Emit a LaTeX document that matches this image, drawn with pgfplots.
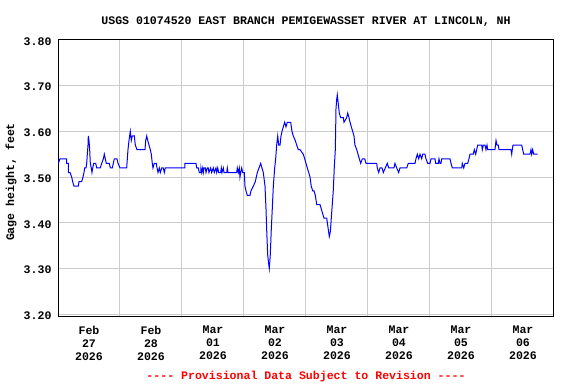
\documentclass[border=0pt]{standalone}
\usepackage{fontspec}
\setmonofont{Liberation Mono}
\usepackage{pgfplots}
\pgfplotsset{compat=1.18}
\definecolor{gridgray}{RGB}{204,204,204}
\definecolor{usgsblue}{RGB}{0,0,255}
\newcommand{\cf}{\ttfamily\bfseries\fontsize{11.6}{13}\selectfont}
\begin{document}
\begin{tikzpicture}
\path[use as bounding box] (0,0) rectangle (576bp,384bp);
\begin{axis}[
  at={(58bp,68bp)}, anchor=south west,
  scale only axis, width=496bp, height=276bp,
  xmin=0, xmax=8, ymin=3.196, ymax=3.80,
  axis line style={black, line width=1bp},
  major tick length=0pt,
  xtick={0.5,1.5,2.5,3.5,4.5,5.5,6.5,7.5},
  xticklabels={{Feb\\27\\2026},{Feb\\28\\2026},{Mar\\01\\2026},{Mar\\02\\2026},{Mar\\03\\2026},{Mar\\04\\2026},{Mar\\05\\2026},{Mar\\06\\2026}},
  xticklabel style={align=center, font=\cf, yshift=-6.5bp},
  extra x ticks={1,2,3,4,5,6,7},
  extra x tick labels={},
  extra x tick style={grid=major},
  ytick={3.2,3.3,3.4,3.5,3.6,3.7,3.8},
  ymajorgrids=true,
  grid style={gridgray, line width=1bp},
  yticklabel style={font=\cf, xshift=-3bp, yshift=-1.5bp, /pgf/number format/.cd, fixed, fixed zerofill, precision=2},
  /pgf/number format/assume math mode=true,
]
\addplot[usgsblue, line width=1bp, sharp plot, no marks] coordinates {
(0.005,3.53)(0.032,3.54)(0.140,3.54)(0.141,3.53)(0.166,3.53)(0.167,3.51)(0.194,3.51)(0.221,3.50)(0.237,3.49)(0.258,3.48)(0.327,3.48)(0.339,3.49)(0.382,3.49)(0.403,3.50)(0.419,3.51)(0.431,3.52)(0.452,3.52)(0.463,3.53)(0.473,3.55)(0.484,3.57)(0.489,3.59)(0.500,3.58)(0.511,3.56)(0.521,3.53)(0.537,3.52)(0.548,3.51)(0.560,3.52)(0.576,3.53)(0.608,3.53)(0.624,3.52)(0.682,3.52)(0.705,3.53)(0.731,3.54)(0.747,3.55)(0.763,3.54)(0.779,3.53)(0.827,3.53)(0.844,3.52)(0.876,3.52)(0.892,3.53)(0.908,3.54)(0.952,3.54)(0.968,3.53)(1.000,3.52)
(1.108,3.52)(1.118,3.54)(1.129,3.56)(1.145,3.58)(1.166,3.60)(1.182,3.58)(1.198,3.59)(1.231,3.59)(1.247,3.57)(1.274,3.56)(1.403,3.56)(1.415,3.58)(1.431,3.59)(1.447,3.58)(1.468,3.57)(1.489,3.56)(1.505,3.55)(1.521,3.53)(1.532,3.52)(1.553,3.53)(1.585,3.53)(1.597,3.52)(1.613,3.51)(1.634,3.52)(1.650,3.51)(1.673,3.52)(1.698,3.52)(1.715,3.51)(1.731,3.52)(2.047,3.52)
(2.048,3.53)(2.226,3.53)(2.237,3.52)(2.263,3.52)(2.279,3.51)(2.302,3.51)(2.306,3.52)(2.318,3.51)(2.334,3.52)(2.344,3.51)(2.355,3.52)(2.376,3.52)(2.387,3.51)(2.408,3.52)(2.424,3.52)(2.435,3.51)(2.463,3.52)(2.479,3.51)(2.505,3.52)(2.521,3.51)(2.548,3.52)(2.560,3.51)(2.576,3.52)(2.592,3.51)(2.624,3.51)(2.634,3.52)(2.645,3.51)(2.666,3.52)(2.677,3.51)(2.721,3.51)(2.731,3.52)(2.742,3.51)(2.882,3.51)(2.892,3.52)(2.908,3.51)(2.924,3.52)(2.935,3.50)(2.947,3.51)(2.963,3.52)(2.979,3.51)(3.005,3.51)
(3.016,3.48)(3.032,3.47)(3.053,3.46)(3.097,3.46)(3.113,3.47)(3.150,3.48)(3.182,3.49)(3.215,3.51)(3.242,3.52)(3.269,3.53)(3.290,3.52)(3.311,3.51)(3.339,3.48)(3.355,3.43)(3.366,3.385)(3.382,3.33)(3.398,3.31)(3.408,3.30)(3.424,3.33)(3.440,3.385)(3.456,3.43)(3.473,3.48)(3.495,3.52)(3.511,3.54)(3.527,3.57)(3.544,3.59)(3.560,3.57)(3.581,3.57)(3.597,3.59)(3.613,3.60)(3.634,3.61)(3.656,3.62)(3.677,3.61)(3.698,3.62)(3.753,3.62)(3.774,3.60)(3.795,3.59)(3.827,3.58)(3.850,3.57)(3.876,3.56)(3.903,3.56)
(3.956,3.55)(3.979,3.54)(4.000,3.53)(4.021,3.52)(4.044,3.51)(4.065,3.50)(4.085,3.48)(4.108,3.47)(4.129,3.47)(4.150,3.46)(4.173,3.44)(4.226,3.44)(4.247,3.43)(4.269,3.42)(4.290,3.41)(4.334,3.41)(4.355,3.39)(4.376,3.37)(4.392,3.38)(4.408,3.41)(4.424,3.44)(4.440,3.47)(4.456,3.52)(4.473,3.56)(4.484,3.65)(4.495,3.67)(4.505,3.68)(4.521,3.66)(4.537,3.64)(4.560,3.63)(4.602,3.63)(4.613,3.62)(4.656,3.63)(4.673,3.64)(4.694,3.63)(4.710,3.62)(4.731,3.61)(4.753,3.60)(4.774,3.59)(4.790,3.57)(4.818,3.56)(4.839,3.55)(4.860,3.54)(4.882,3.53)(4.908,3.54)(4.947,3.54)(4.968,3.53)
(5.140,3.53)(5.150,3.52)(5.173,3.51)(5.194,3.52)(5.226,3.52)(5.247,3.51)(5.279,3.52)(5.311,3.53)(5.334,3.52)(5.419,3.52)(5.435,3.53)(5.463,3.52)(5.495,3.51)(5.516,3.52)(5.624,3.52)(5.650,3.53)(5.758,3.53)(5.774,3.54)(5.795,3.55)(5.818,3.54)(5.839,3.55)(5.866,3.54)(5.882,3.55)(5.919,3.55)(5.935,3.54)(5.963,3.53)
(6.000,3.53)(6.016,3.54)(6.081,3.54)(6.092,3.53)(6.134,3.53)(6.145,3.54)(6.161,3.53)(6.177,3.53)(6.189,3.54)(6.323,3.54)(6.339,3.53)(6.360,3.52)(6.511,3.52)(6.521,3.53)(6.544,3.52)(6.565,3.53)(6.608,3.53)(6.629,3.54)(6.645,3.55)(6.698,3.55)(6.715,3.56)(6.737,3.55)(6.753,3.56)(6.769,3.57)(6.834,3.57)(6.844,3.56)(6.860,3.57)(6.887,3.57)(6.903,3.56)(6.919,3.57)(6.931,3.56)
(7.048,3.56)(7.065,3.58)(7.081,3.57)(7.102,3.57)(7.113,3.56)(7.306,3.56)(7.318,3.55)(7.327,3.56)(7.339,3.57)(7.479,3.57)(7.495,3.56)(7.511,3.55)(7.613,3.55)(7.629,3.56)(7.640,3.55)(7.656,3.56)(7.673,3.55)(7.737,3.55)
};
\end{axis}
\node[font=\cf] at (306bp,362.5bp) {USGS 01074520 EAST BRANCH PEMIGEWASSET RIVER AT LINCOLN, NH};
\node[font=\cf, rotate=90] at (11bp,202bp) {Gage height, feet};
\node[font=\cf, text=red] at (306bp,7.5bp) {---- Provisional Data Subject to Revision ----};
\end{tikzpicture}
\end{document}
